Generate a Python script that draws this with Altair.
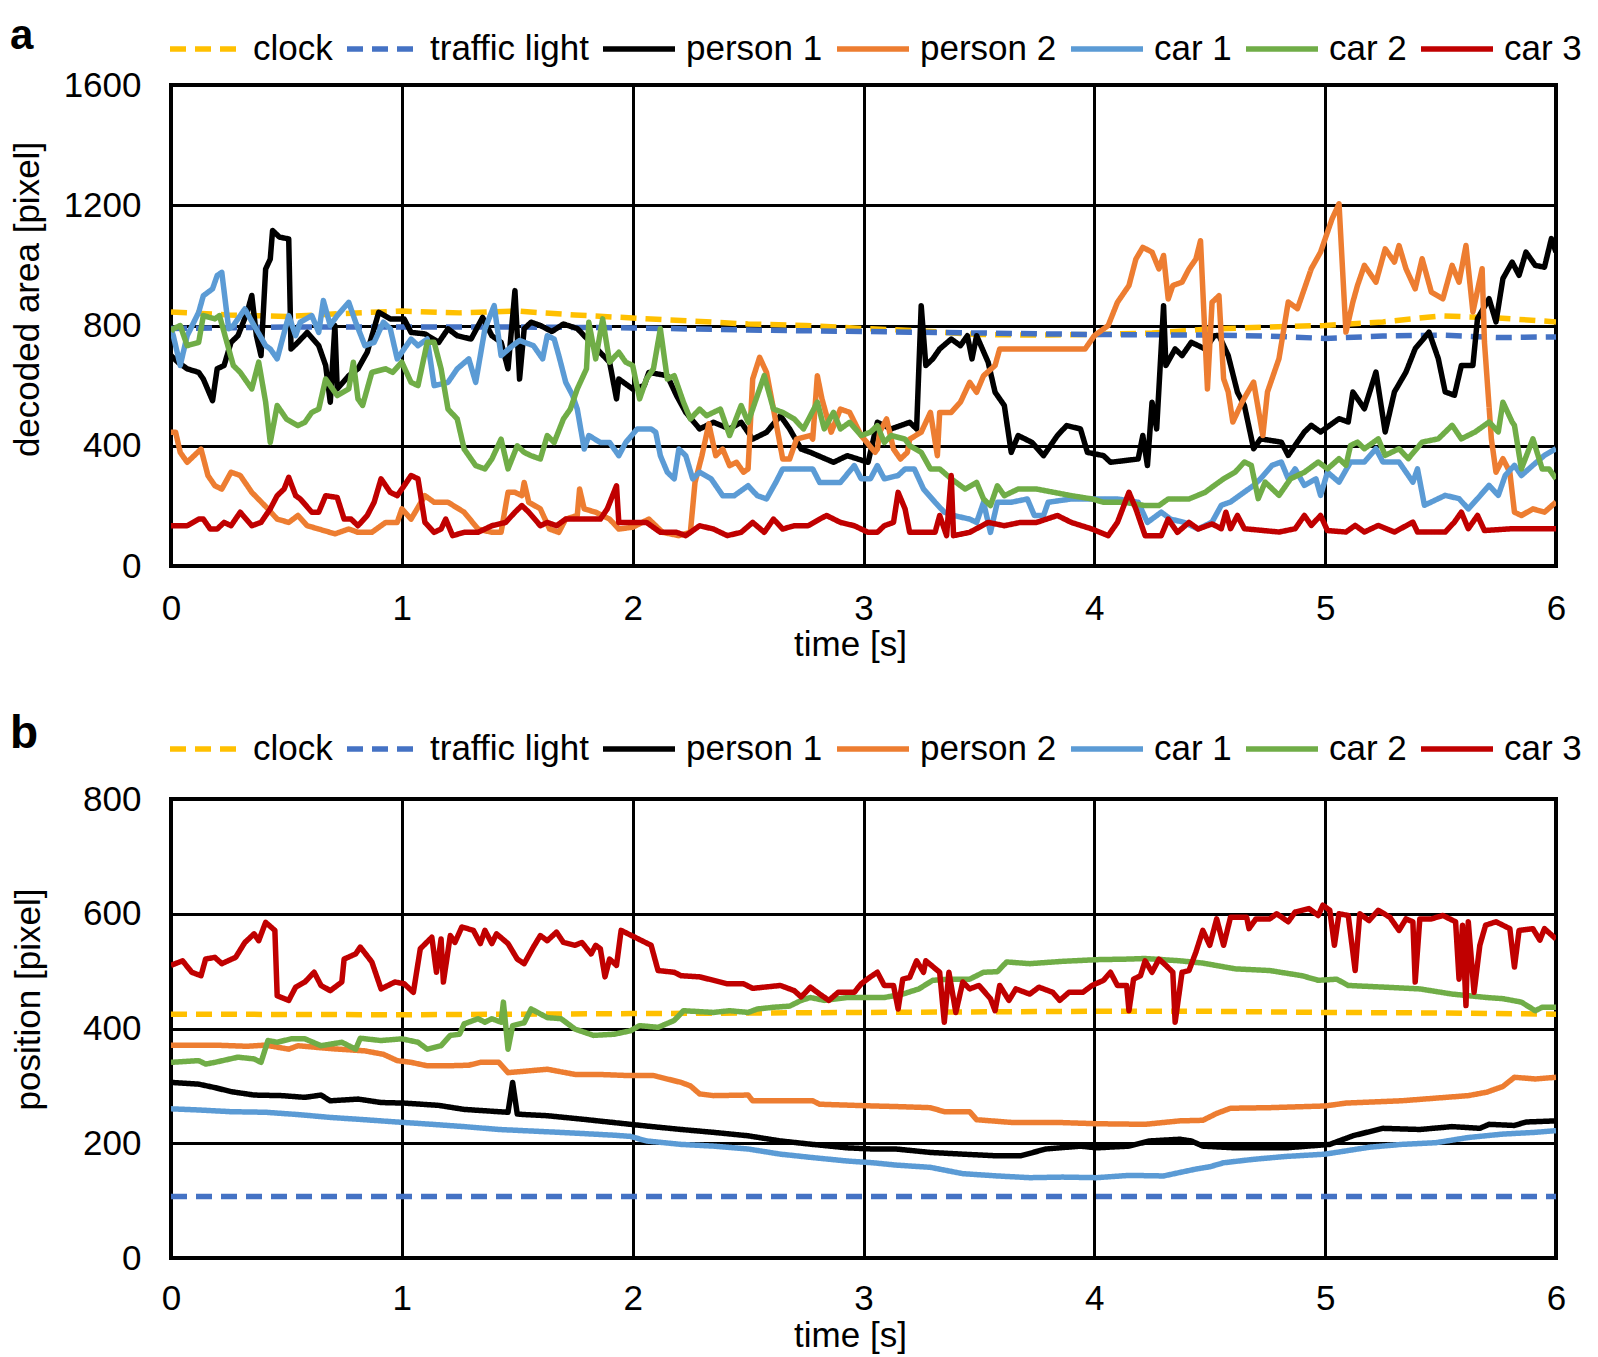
import altair as alt
import pandas as pd

FONT = "Liberation Sans"
SERIES = ["clock", "traffic light", "person 1", "person 2", "car 1", "car 2", "car 3"]
COLORS = ["#FFC000", "#4472C4", "#000000", "#ED7D31", "#5B9BD5", "#70AD47", "#C00000"]
DASHES = [[16, 9], [16, 9], [1, 0], [1, 0], [1, 0], [1, 0], [1, 0]]
X_TICKS = [0, 1, 2, 3, 4, 5, 6]
A_TICKS = [0, 400, 800, 1200, 1600]
B_TICKS = [0, 200, 400, 600, 800]

# ---------------- panel a: decoded area [pixel] ----------------
A_CLOCK = [(0, 845), (0.25, 835), (0.5, 830), (0.75, 840), (1, 848), (1.25, 842), (1.5, 848), (1.75, 835),
           (2, 825), (2.25, 815), (2.5, 805), (2.75, 800), (3, 790), (3.25, 782), (3.5, 770), (3.75, 768),
           (4, 770), (4.25, 775), (4.5, 788), (4.75, 795), (5, 800), (5.25, 812), (5.5, 832), (5.75, 825), (6, 812)]
A_TRAFFIC = [(0, 790), (0.5, 795), (1, 795), (1.5, 795), (2, 792), (2.5, 785), (3, 780), (3.5, 775), (4, 770),
             (4.5, 768), (4.75, 765), (5, 757), (5.25, 765), (5.5, 768), (5.75, 760), (6, 762)]
A_PERSON1 = [(0.00, 700), (0.03, 678), (0.07, 656), (0.12, 644), (0.14, 622), (0.18, 550), (0.20, 656), (0.23, 667),
             (0.26, 744), (0.29, 766), (0.33, 844), (0.35, 900), (0.37, 766), (0.39, 700), (0.41, 988), (0.43, 1021),
             (0.44, 1116), (0.47, 1094), (0.51, 1088), (0.52, 722), (0.55, 744), (0.59, 777), (0.64, 733), (0.67, 667),
             (0.69, 545), (0.71, 800), (0.72, 589), (0.77, 633), (0.81, 656), (0.85, 711), (0.90, 844), (0.95, 822),
             (1.01, 822), (1.04, 777), (1.10, 772), (1.16, 744), (1.20, 789), (1.24, 766), (1.30, 755), (1.35, 827),
             (1.39, 766), (1.43, 744), (1.46, 656), (1.49, 916), (1.51, 622), (1.53, 789), (1.56, 811), (1.60, 800),
             (1.65, 780), (1.70, 805), (1.76, 790), (1.79, 766), (1.90, 678), (1.93, 556), (1.94, 622), (2.00, 589),
             (2.05, 600), (2.07, 644), (2.15, 633), (2.19, 567), (2.23, 511), (2.29, 456), (2.35, 478), (2.42, 456),
             (2.47, 478), (2.52, 422), (2.58, 445), (2.64, 500), (2.68, 456), (2.73, 389), (2.77, 378), (2.87, 345),
             (2.93, 367), (3.02, 345), (3.06, 478), (3.12, 456), (3.20, 478), (3.23, 456), (3.25, 866), (3.27, 667),
             (3.30, 689), (3.33, 722), (3.38, 755), (3.42, 733), (3.45, 766), (3.47, 689), (3.49, 766), (3.54, 678),
             (3.57, 578), (3.61, 534), (3.64, 378), (3.67, 434), (3.73, 411), (3.78, 367), (3.84, 434), (3.88, 467),
             (3.94, 456), (3.97, 378), (4.04, 367), (4.07, 345), (4.19, 356), (4.21, 434), (4.23, 334), (4.25, 545),
             (4.27, 456), (4.30, 866), (4.31, 667), (4.35, 722), (4.38, 700), (4.42, 744), (4.48, 722), (4.52, 766),
             (4.54, 767), (4.58, 700), (4.62, 578), (4.65, 534), (4.69, 390), (4.72, 423), (4.81, 412), (4.84, 368),
             (4.91, 446), (4.94, 468), (4.98, 446), (5.06, 490), (5.10, 479), (5.12, 579), (5.17, 523), (5.22, 645),
             (5.26, 446), (5.30, 579), (5.35, 645), (5.39, 723), (5.45, 778), (5.49, 690), (5.52, 579), (5.56, 568),
             (5.59, 667), (5.64, 667), (5.66, 823), (5.71, 889), (5.74, 812), (5.77, 956), (5.81, 1011), (5.84, 967),
             (5.87, 1044), (5.91, 1000), (5.95, 994), (5.98, 1089), (6.00, 1044)]
A_PERSON2 = [(0.00, 445), (0.02, 445), (0.04, 378), (0.07, 345), (0.10, 367), (0.13, 389), (0.16, 301), (0.19, 267),
             (0.22, 256), (0.26, 312), (0.30, 301), (0.35, 245), (0.42, 190), (0.46, 156), (0.51, 145), (0.55, 168),
             (0.59, 134), (0.64, 123), (0.71, 107), (0.77, 123), (0.81, 112), (0.87, 112), (0.93, 145), (0.98, 145),
             (1.00, 190), (1.04, 156), (1.10, 234), (1.14, 212), (1.20, 212), (1.27, 179), (1.33, 123), (1.39, 112),
             (1.43, 112), (1.46, 245), (1.49, 245), (1.52, 234), (1.53, 278), (1.55, 212), (1.60, 190), (1.64, 123),
             (1.68, 112), (1.71, 156), (1.76, 168), (1.77, 256), (1.79, 190), (1.84, 179), (1.90, 156), (1.94, 123),
             (2.00, 129), (2.07, 156), (2.13, 112), (2.20, 101), (2.25, 112), (2.27, 278), (2.30, 367), (2.33, 473),
             (2.36, 367), (2.39, 389), (2.42, 334), (2.45, 345), (2.48, 312), (2.50, 323), (2.52, 622), (2.55, 694),
             (2.58, 644), (2.61, 522), (2.65, 356), (2.68, 356), (2.71, 422), (2.77, 434), (2.78, 422), (2.80, 633),
             (2.82, 556), (2.86, 445), (2.90, 522), (2.94, 511), (2.99, 434), (3.05, 378), (3.06, 389), (3.07, 445),
             (3.10, 489), (3.13, 389), (3.16, 356), (3.19, 378), (3.20, 422), (3.25, 445), (3.29, 511), (3.32, 367),
             (3.33, 511), (3.38, 511), (3.42, 545), (3.46, 611), (3.49, 578), (3.52, 633), (3.57, 667), (3.59, 722),
             (3.75, 722), (3.96, 722), (4.00, 766), (4.06, 800), (4.10, 877), (4.15, 933), (4.18, 1021), (4.21, 1060),
             (4.25, 1044), (4.28, 988), (4.30, 1033), (4.32, 888), (4.34, 933), (4.38, 944), (4.41, 988), (4.44, 1021),
             (4.46, 1082), (4.49, 589), (4.51, 877), (4.54, 899), (4.56, 623), (4.58, 579), (4.60, 479), (4.64, 545),
             (4.69, 612), (4.73, 434), (4.75, 579), (4.80, 690), (4.84, 878), (4.88, 856), (4.94, 989), (4.98, 1044),
             (5.03, 1155), (5.06, 1205), (5.09, 778), (5.12, 878), (5.14, 933), (5.17, 1000), (5.22, 944), (5.26, 1055),
             (5.30, 1011), (5.32, 1066), (5.35, 989), (5.39, 922), (5.42, 1022), (5.46, 911), (5.51, 889), (5.55, 1000),
             (5.58, 944), (5.61, 1066), (5.64, 845), (5.68, 989), (5.69, 745), (5.72, 423), (5.74, 312), (5.77, 357),
             (5.80, 312), (5.82, 179), (5.85, 168), (5.90, 190), (5.95, 179), (6.00, 213)]
A_CAR1 = [(0.00, 790), (0.01, 766), (0.04, 667), (0.07, 766), (0.12, 844), (0.14, 899), (0.18, 922), (0.20, 966),
          (0.22, 977), (0.25, 789), (0.27, 800), (0.32, 855), (0.36, 800), (0.41, 733), (0.43, 722), (0.46, 689),
          (0.51, 833), (0.54, 766), (0.56, 811), (0.61, 833), (0.64, 777), (0.66, 883), (0.69, 800), (0.72, 833),
          (0.77, 877), (0.80, 811), (0.84, 733), (0.88, 744), (0.92, 811), (0.95, 789), (0.98, 689), (1.01, 722),
          (1.04, 755), (1.07, 733), (1.11, 755), (1.14, 600), (1.20, 611), (1.24, 656), (1.29, 689), (1.32, 611),
          (1.36, 789), (1.40, 866), (1.43, 700), (1.48, 733), (1.51, 750), (1.57, 733), (1.61, 689), (1.63, 766),
          (1.66, 755), (1.68, 700), (1.71, 611), (1.74, 567), (1.76, 522), (1.79, 389), (1.81, 434), (1.86, 411),
          (1.90, 411), (1.94, 367), (1.97, 411), (2.02, 456), (2.08, 456), (2.10, 445), (2.12, 367), (2.15, 312),
          (2.18, 290), (2.20, 389), (2.23, 367), (2.26, 290), (2.29, 312), (2.34, 290), (2.39, 234), (2.44, 234),
          (2.50, 267), (2.54, 234), (2.58, 223), (2.62, 278), (2.65, 323), (2.78, 323), (2.81, 278), (2.90, 278),
          (2.96, 334), (2.99, 290), (3.03, 290), (3.06, 334), (3.09, 290), (3.15, 301), (3.18, 323), (3.22, 323),
          (3.26, 256), (3.31, 212), (3.35, 179), (3.39, 168), (3.46, 156), (3.49, 145), (3.52, 212), (3.55, 112),
          (3.58, 212), (3.64, 212), (3.71, 223), (3.74, 168), (3.78, 168), (3.80, 212), (3.90, 223), (3.99, 223),
          (4.10, 223), (4.19, 212), (4.23, 145), (4.29, 179), (4.33, 156), (4.39, 145), (4.45, 123), (4.51, 146),
          (4.55, 202), (4.59, 213), (4.65, 246), (4.69, 268), (4.72, 290), (4.77, 335), (4.81, 346), (4.84, 290),
          (4.87, 323), (4.91, 268), (4.96, 290), (4.98, 235), (5.01, 312), (5.06, 279), (5.11, 346), (5.17, 346),
          (5.22, 390), (5.25, 346), (5.32, 346), (5.38, 279), (5.40, 323), (5.43, 202), (5.52, 235), (5.58, 224),
          (5.62, 190), (5.66, 224), (5.71, 268), (5.75, 235), (5.78, 301), (5.82, 335), (5.85, 301), (5.90, 335),
          (5.95, 368), (6.00, 390)]
A_CAR2 = [(0.00, 780), (0.01, 789), (0.04, 800), (0.07, 733), (0.12, 744), (0.14, 833), (0.19, 822), (0.21, 833),
          (0.25, 722), (0.27, 667), (0.30, 644), (0.35, 589), (0.38, 678), (0.41, 545), (0.43, 411), (0.46, 534),
          (0.50, 489), (0.55, 467), (0.58, 478), (0.61, 511), (0.64, 522), (0.67, 622), (0.69, 600), (0.72, 567),
          (0.77, 589), (0.79, 678), (0.81, 556), (0.83, 534), (0.87, 644), (0.93, 656), (0.96, 644), (1.00, 678),
          (1.04, 611), (1.07, 600), (1.11, 744), (1.14, 744), (1.17, 656), (1.20, 522), (1.24, 489), (1.27, 389),
          (1.32, 334), (1.36, 323), (1.39, 356), (1.43, 422), (1.46, 323), (1.50, 400), (1.53, 378), (1.56, 367),
          (1.60, 356), (1.63, 434), (1.66, 411), (1.70, 489), (1.73, 522), (1.76, 589), (1.80, 656), (1.81, 811),
          (1.84, 689), (1.87, 822), (1.90, 678), (1.94, 711), (1.97, 678), (2.00, 667), (2.03, 556), (2.06, 622),
          (2.09, 656), (2.12, 789), (2.15, 622), (2.18, 633), (2.22, 545), (2.25, 489), (2.29, 522), (2.32, 500),
          (2.38, 522), (2.42, 434), (2.47, 534), (2.50, 478), (2.54, 567), (2.57, 633), (2.61, 522), (2.65, 511),
          (2.70, 489), (2.74, 456), (2.77, 500), (2.80, 545), (2.83, 456), (2.87, 511), (2.90, 456), (2.94, 478),
          (2.99, 434), (3.03, 445), (3.06, 467), (3.09, 411), (3.12, 434), (3.18, 422), (3.20, 400), (3.25, 378),
          (3.29, 323), (3.33, 323), (3.38, 290), (3.44, 256), (3.49, 278), (3.52, 223), (3.55, 201), (3.58, 267),
          (3.61, 234), (3.67, 256), (3.75, 256), (3.90, 234), (3.99, 223), (4.04, 212), (4.13, 212), (4.22, 201),
          (4.28, 201), (4.32, 223), (4.41, 223), (4.48, 245), (4.52, 268), (4.56, 290), (4.61, 312), (4.65, 346),
          (4.68, 335), (4.71, 224), (4.74, 279), (4.80, 235), (4.85, 290), (4.91, 312), (4.97, 346), (5.01, 323),
          (5.06, 357), (5.09, 335), (5.11, 401), (5.14, 412), (5.17, 390), (5.23, 423), (5.26, 368), (5.32, 390),
          (5.36, 357), (5.42, 412), (5.49, 423), (5.55, 468), (5.59, 423), (5.65, 446), (5.71, 479), (5.75, 446),
          (5.77, 545), (5.81, 479), (5.82, 468), (5.85, 323), (5.90, 423), (5.94, 323), (5.97, 323), (6.00, 290)]
A_CAR3 = [(0.00, 134), (0.07, 134), (0.12, 156), (0.14, 156), (0.17, 123), (0.20, 123), (0.23, 145), (0.26, 134),
          (0.30, 179), (0.35, 134), (0.39, 145), (0.43, 190), (0.46, 234), (0.49, 256), (0.51, 295), (0.54, 234),
          (0.56, 223), (0.61, 179), (0.64, 179), (0.67, 234), (0.72, 228), (0.75, 156), (0.78, 156), (0.81, 134),
          (0.85, 168), (0.88, 212), (0.91, 290), (0.95, 245), (0.98, 234), (1.01, 267), (1.04, 301), (1.07, 290),
          (1.10, 145), (1.14, 112), (1.17, 123), (1.19, 156), (1.22, 101), (1.27, 112), (1.33, 112), (1.39, 134),
          (1.45, 145), (1.49, 179), (1.52, 201), (1.55, 179), (1.60, 134), (1.63, 145), (1.67, 134), (1.71, 156),
          (1.80, 156), (1.86, 156), (1.89, 190), (1.93, 267), (1.94, 145), (2.00, 145), (2.06, 145), (2.12, 112),
          (2.19, 112), (2.23, 101), (2.29, 134), (2.35, 123), (2.41, 101), (2.47, 112), (2.52, 145), (2.57, 112),
          (2.61, 156), (2.65, 123), (2.70, 134), (2.76, 134), (2.81, 156), (2.84, 168), (2.90, 145), (2.96, 134),
          (3.02, 112), (3.06, 112), (3.09, 134), (3.13, 145), (3.15, 245), (3.18, 190), (3.20, 112), (3.31, 112),
          (3.33, 168), (3.36, 101), (3.38, 301), (3.39, 101), (3.46, 112), (3.54, 145), (3.61, 134), (3.68, 145),
          (3.75, 145), (3.84, 168), (3.90, 145), (3.99, 123), (4.06, 101), (4.10, 145), (4.15, 245), (4.18, 190),
          (4.22, 101), (4.29, 101), (4.32, 156), (4.36, 112), (4.41, 145), (4.45, 123), (4.51, 140), (4.55, 124),
          (4.57, 179), (4.59, 124), (4.62, 168), (4.65, 124), (4.80, 113), (4.87, 124), (4.91, 168), (4.94, 135),
          (4.98, 168), (5.01, 118), (5.09, 113), (5.13, 135), (5.17, 113), (5.23, 135), (5.30, 113), (5.38, 146),
          (5.40, 113), (5.52, 113), (5.56, 146), (5.59, 179), (5.62, 124), (5.66, 168), (5.69, 118), (5.81, 124),
          (5.90, 124), (6.00, 124)]

# ---------------- panel b: position [pixel] ----------------
B_CLOCK = [(0, 425), (1, 424), (2, 426), (3, 428), (4, 430), (4.5, 430), (5, 428), (5.5, 427), (6, 425)]
B_TRAFFIC = [(0, 107), (2, 107), (4, 107), (6, 107)]
B_PERSON1 = [(0.00, 306), (0.12, 303), (0.19, 297), (0.26, 290), (0.36, 284), (0.48, 283), (0.58, 280), (0.65, 284),
             (0.69, 274), (0.81, 277), (0.91, 271), (1.01, 270), (1.16, 266), (1.27, 259), (1.42, 255), (1.46, 254),
             (1.48, 306), (1.50, 251), (1.53, 250), (1.63, 248), (1.78, 242), (1.92, 236), (2.06, 230), (2.21, 224),
             (2.35, 219), (2.50, 213), (2.64, 204), (2.78, 198), (2.93, 192), (3.04, 190), (3.14, 190), (3.29, 184),
             (3.43, 181), (3.58, 178), (3.68, 178), (3.79, 190), (3.94, 195), (4.01, 192), (4.15, 195), (4.24, 204),
             (4.37, 207), (4.42, 204), (4.47, 195), (4.61, 192), (4.83, 192), (5.02, 198), (5.12, 213), (5.25, 226),
             (5.41, 224), (5.55, 229), (5.67, 226), (5.71, 233), (5.82, 231), (5.87, 237), (6.00, 239)]
B_PERSON2 = [(0.00, 371), (0.19, 371), (0.33, 369), (0.41, 371), (0.51, 364), (0.55, 370), (0.69, 365), (0.84, 361),
             (0.92, 355), (0.98, 344), (1.04, 341), (1.11, 335), (1.20, 335), (1.29, 336), (1.34, 341), (1.42, 341),
             (1.46, 323), (1.63, 329), (1.75, 320), (1.85, 320), (1.98, 318), (2.09, 318), (2.21, 306), (2.25, 300),
             (2.29, 286), (2.35, 283), (2.50, 284), (2.52, 274), (2.71, 274), (2.78, 274), (2.81, 268), (3.04, 265),
             (3.14, 264), (3.29, 262), (3.35, 255), (3.46, 255), (3.49, 241), (3.65, 236), (3.86, 236), (4.01, 234),
             (4.22, 233), (4.37, 239), (4.47, 240), (4.53, 252), (4.59, 261), (4.76, 262), (5.00, 265), (5.09, 270),
             (5.33, 274), (5.62, 283), (5.70, 289), (5.77, 299), (5.82, 315), (5.91, 312), (6.00, 315)]
B_CAR1 = [(0.00, 260), (0.12, 258), (0.26, 255), (0.41, 254), (0.55, 250), (0.69, 245), (0.84, 241), (0.98, 237),
          (1.13, 233), (1.27, 229), (1.42, 224), (1.63, 220), (1.78, 217), (1.92, 214), (1.99, 212), (2.06, 204),
          (2.21, 198), (2.35, 195), (2.50, 190), (2.64, 181), (2.78, 175), (2.93, 169), (3.04, 166), (3.14, 162),
          (3.29, 158), (3.43, 147), (3.58, 143), (3.72, 140), (3.86, 141), (4.01, 140), (4.15, 144), (4.30, 143),
          (4.44, 155), (4.50, 159), (4.56, 166), (4.69, 172), (4.83, 177), (5.00, 181), (5.19, 193), (5.33, 198),
          (5.48, 201), (5.62, 210), (5.77, 216), (5.91, 219), (6.00, 222)]
B_CAR2 = [(0.00, 341), (0.12, 344), (0.15, 338), (0.19, 341), (0.29, 350), (0.36, 347), (0.39, 341), (0.42, 379),
          (0.46, 376), (0.52, 382), (0.58, 382), (0.65, 370), (0.74, 376), (0.80, 364), (0.82, 383), (0.91, 379),
          (1.00, 382), (1.07, 376), (1.11, 364), (1.17, 370), (1.21, 388), (1.25, 390), (1.27, 408), (1.33, 417),
          (1.36, 411), (1.39, 417), (1.43, 411), (1.44, 446), (1.46, 364), (1.48, 405), (1.53, 410), (1.56, 434),
          (1.63, 419), (1.69, 417), (1.75, 399), (1.83, 388), (1.92, 390), (1.99, 396), (2.03, 405), (2.11, 402),
          (2.18, 414), (2.22, 431), (2.35, 428), (2.42, 431), (2.50, 428), (2.54, 434), (2.61, 437), (2.68, 439),
          (2.73, 449), (2.77, 454), (2.83, 449), (2.93, 454), (3.09, 454), (3.17, 460), (3.24, 469), (3.30, 484),
          (3.37, 486), (3.46, 486), (3.52, 498), (3.58, 499), (3.62, 516), (3.72, 513), (3.86, 517), (4.01, 520),
          (4.15, 521), (4.22, 522), (4.37, 518), (4.47, 514), (4.61, 504), (4.76, 501), (4.90, 492), (4.97, 484),
          (5.05, 486), (5.10, 475), (5.26, 472), (5.41, 469), (5.55, 460), (5.70, 454), (5.77, 452), (5.85, 446),
          (5.91, 431), (5.94, 437), (6.00, 437)]
B_CAR3 = [(0.00, 510), (0.05, 518), (0.09, 498), (0.13, 492), (0.15, 521), (0.19, 524), (0.22, 513), (0.28, 524),
          (0.32, 550), (0.36, 565), (0.38, 553), (0.41, 585), (0.45, 571), (0.46, 457), (0.51, 449), (0.54, 472),
          (0.58, 481), (0.62, 498), (0.65, 475), (0.69, 466), (0.74, 481), (0.75, 521), (0.80, 530), (0.82, 542),
          (0.87, 516), (0.91, 469), (0.97, 481), (1.01, 478), (1.05, 463), (1.08, 539), (1.13, 559), (1.15, 498),
          (1.17, 556), (1.18, 481), (1.21, 562), (1.23, 550), (1.26, 577), (1.31, 571), (1.34, 548), (1.36, 571),
          (1.39, 548), (1.41, 565), (1.46, 548), (1.50, 521), (1.53, 513), (1.57, 542), (1.60, 562), (1.63, 553),
          (1.67, 568), (1.70, 550), (1.75, 545), (1.78, 550), (1.82, 530), (1.84, 545), (1.86, 539), (1.88, 490),
          (1.90, 521), (1.93, 510), (1.95, 571), (2.01, 559), (2.08, 545), (2.11, 501), (2.18, 498), (2.21, 492),
          (2.29, 490), (2.41, 478), (2.48, 478), (2.52, 470), (2.64, 475), (2.70, 466), (2.73, 455), (2.77, 472),
          (2.81, 460), (2.85, 449), (2.89, 463), (2.96, 463), (2.99, 478), (3.03, 490), (3.06, 498), (3.09, 475),
          (3.13, 475), (3.15, 434), (3.17, 486), (3.20, 489), (3.23, 518), (3.26, 498), (3.27, 518), (3.33, 498),
          (3.35, 411), (3.37, 498), (3.40, 428), (3.43, 481), (3.46, 469), (3.50, 475), (3.55, 452), (3.57, 431),
          (3.59, 475), (3.63, 449), (3.66, 469), (3.72, 460), (3.76, 472), (3.82, 463), (3.85, 449), (3.89, 463),
          (3.95, 463), (3.99, 475), (4.04, 484), (4.07, 498), (4.10, 475), (4.14, 475), (4.15, 431), (4.17, 486),
          (4.20, 492), (4.22, 518), (4.25, 498), (4.28, 521), (4.31, 510), (4.34, 498), (4.35, 411), (4.38, 498),
          (4.41, 501), (4.44, 533), (4.47, 571), (4.50, 545), (4.53, 591), (4.56, 545), (4.59, 594), (4.66, 594),
          (4.67, 574), (4.70, 591), (4.76, 591), (4.79, 600), (4.84, 586), (4.87, 603), (4.93, 609), (4.97, 597),
          (4.99, 615), (5.02, 606), (5.04, 545), (5.06, 600), (5.10, 597), (5.13, 501), (5.15, 600), (5.19, 588),
          (5.23, 606), (5.28, 594), (5.32, 571), (5.35, 591), (5.38, 586), (5.39, 481), (5.41, 591), (5.46, 591),
          (5.51, 597), (5.565, 586), (5.58, 486), (5.595, 580), (5.61, 440), (5.62, 586), (5.645, 463), (5.67, 545),
          (5.695, 580), (5.74, 586), (5.80, 574), (5.82, 507), (5.84, 571), (5.90, 574), (5.93, 554), (5.95, 574),
          (6.00, 556)]


def to_frame(series_points):
    rows = []
    for name, pts in zip(SERIES, series_points):
        for i, (t, v) in enumerate(pts):
            rows.append({"t": t, "v": v, "series": name, "i": i})
    return pd.DataFrame(rows)


DF_A = to_frame([A_CLOCK, A_TRAFFIC, A_PERSON1, A_PERSON2, A_CAR1, A_CAR2, A_CAR3])
DF_B = to_frame([B_CLOCK, B_TRAFFIC, B_PERSON1, B_PERSON2, B_CAR1, B_CAR2, B_CAR3])

W = 1385


def legend(ly):
    return alt.Legend(
        title=None, orient="none", legendX=-4, legendY=ly, direction="horizontal", columns=7,
        symbolType="stroke", symbolSize=5184, symbolStrokeWidth=5.5, labelFont=FONT, labelFontSize=35,
        labelColor="black", labelOffset=8, columnPadding=3, labelLimit=400, padding=0,
    )


def panel(df, ymax, yticks, ytitle, label, ly, ytx, yty, xty, h, label_y, label_size, lpad):
    lines = alt.Chart(df).mark_line(strokeWidth=5.5, strokeCap="butt", strokeJoin="round", clip=True).encode(
        x=alt.X("t:Q", scale=alt.Scale(domain=[0, 6], nice=False, zero=False),
                axis=alt.Axis(values=X_TICKS, format="d", title="time [s]", titleX=679, titleY=xty,
                              titleAlign="center", titleBaseline="middle", labelPadding=lpad, labelFlush=False)),
        y=alt.Y("v:Q", scale=alt.Scale(domain=[0, ymax], nice=False),
                axis=alt.Axis(values=yticks, format="d", title=ytitle, titleX=ytx, titleY=yty, titleAngle=270,
                              titleAlign="center", titleBaseline="middle", labelPadding=30, labelFlush=False)),
        color=alt.Color("series:N", scale=alt.Scale(domain=SERIES, range=COLORS), legend=legend(ly)),
        strokeDash=alt.StrokeDash("series:N", scale=alt.Scale(domain=SERIES, range=DASHES), legend=legend(ly)),
        order=alt.Order("i:Q"),
    )
    tag = alt.Chart(alt.Data(values=[{"s": label}])).mark_text(
        font=FONT, fontSize=label_size, fontWeight="bold", align="left", baseline="alphabetic", color="black"
    ).encode(text="s:N", x=alt.value(-161), y=alt.value(label_y))
    return alt.layer(lines, tag).properties(width=W, height=h)


pa = panel(DF_A, 1600, A_TICKS, "decoded area [pixel]", "a", -75, -144, 214, 78, 481, -36, 42, 25)
pb = panel(DF_B, 800, B_TICKS, "position [pixel]", "b", -89, -143, 200, 77, 459, -51, 46, 23)

chart = alt.vconcat(pa, pb, spacing=233, bounds="flush").resolve_scale(
    color="independent", strokeDash="independent"
).resolve_legend(color="independent", strokeDash="independent").properties(
    padding=0, background="white"
).configure_view(
    stroke="black", strokeWidth=4
).configure_axis(
    labelFont=FONT, labelFontSize=35, labelColor="black", titleFont=FONT, titleFontSize=35,
    titleColor="black", titleFontWeight="normal", grid=True, gridColor="black", gridWidth=3,
    gridOpacity=1, domain=False, ticks=False
)

chart.save("out.html", embed_options={"renderer": "svg", "actions": False})
